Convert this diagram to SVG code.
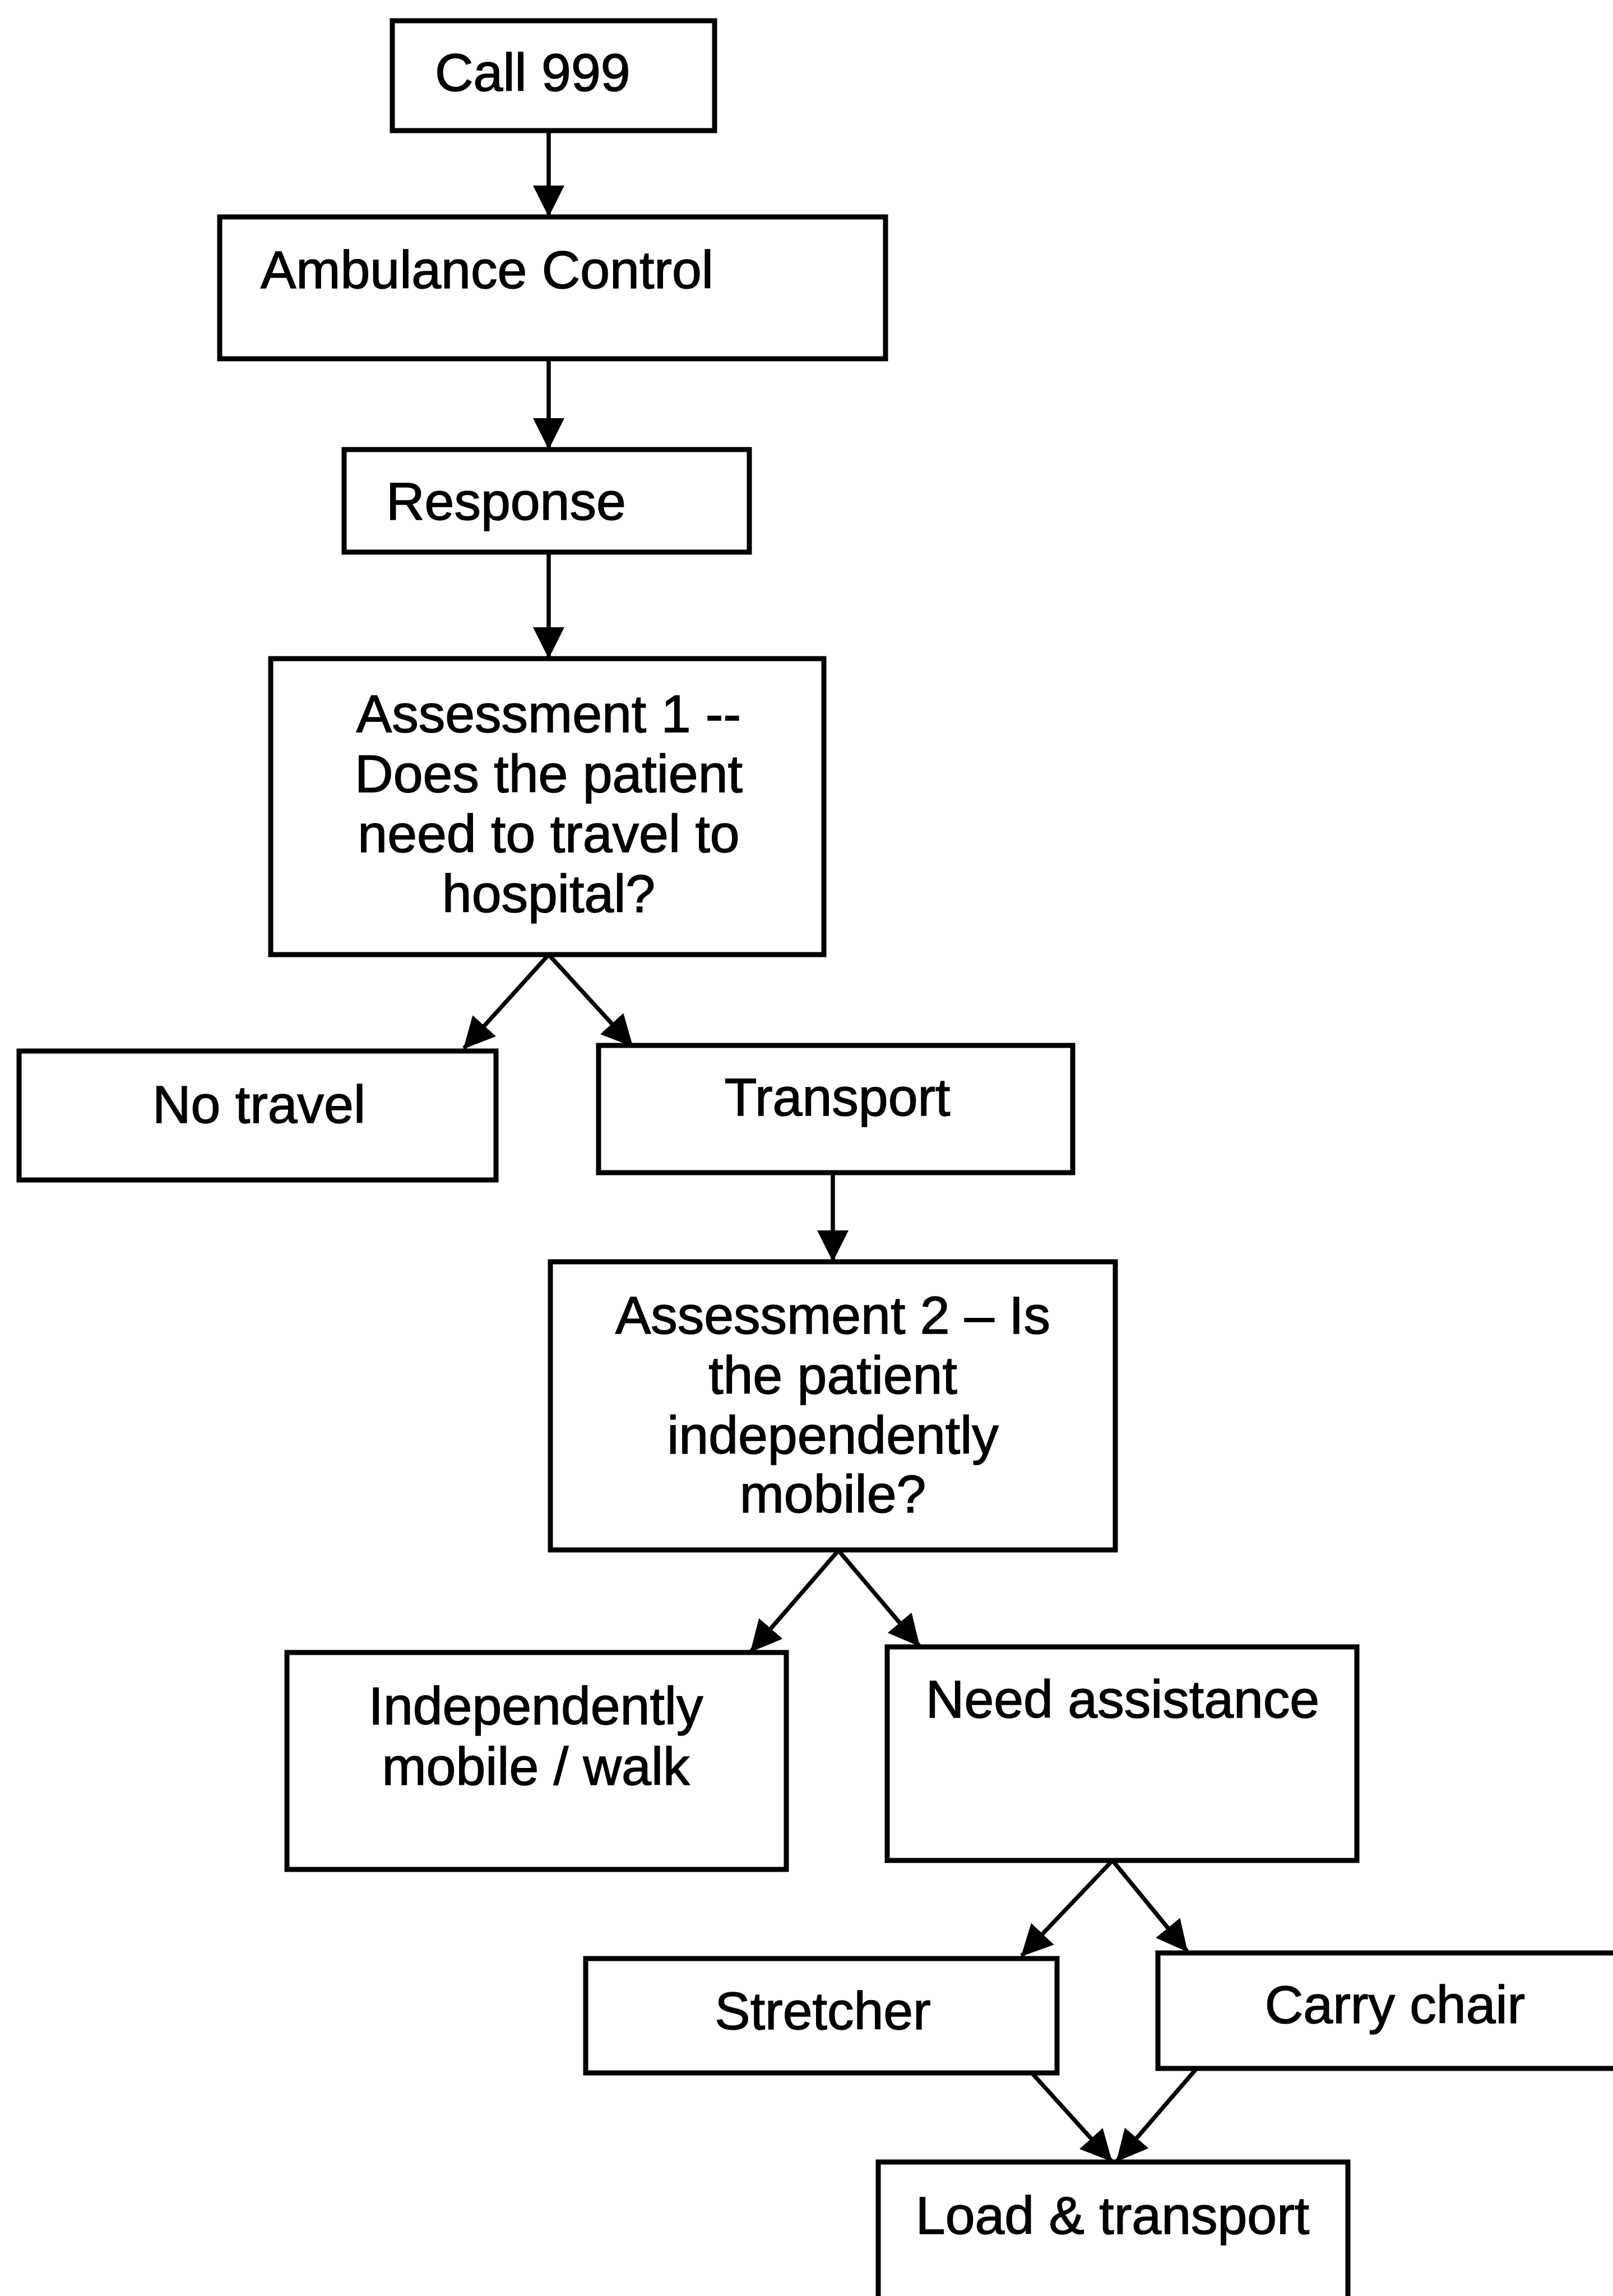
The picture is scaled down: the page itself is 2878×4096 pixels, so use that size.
<svg xmlns="http://www.w3.org/2000/svg" width="2878" height="4096" viewBox="0 0 2878 4096">
<style>
  .box { fill: #ffffff; stroke: #000000; stroke-width: 9; }
  .lbl { font-family: "Liberation Sans", Arial, sans-serif; font-size: 95px; fill: #000000; stroke: #000000; stroke-width: 1.5; }
  .mid { text-anchor: middle; }
  .edge { stroke: #000000; stroke-width: 7.5; fill: none; marker-end: url(#head); }
</style>
<defs>
  <marker id="head" markerUnits="userSpaceOnUse" viewBox="0 0 56 56" markerWidth="56" markerHeight="56" refX="54" refY="28" orient="auto">
    <path d="M0,0 L56,28 L0,56 Z" fill="#000000"/>
  </marker>
</defs>
<rect width="2878" height="4096" fill="#ffffff"/>

<g id="connectors">
  <line class="edge" x1="979" y1="232" x2="979" y2="385"/>
  <line class="edge" x1="979" y1="640" x2="979" y2="800"/>
  <line class="edge" x1="979" y1="985" x2="979" y2="1173"/>
  <line class="edge" x1="979" y1="1703" x2="828" y2="1870"/>
  <line class="edge" x1="979" y1="1703" x2="1128" y2="1866"/>
  <line class="edge" x1="1486" y1="2092" x2="1486" y2="2249"/>
  <line class="edge" x1="1496" y1="2766" x2="1340" y2="2946"/>
  <line class="edge" x1="1496" y1="2766" x2="1640" y2="2936"/>
  <line class="edge" x1="1985" y1="3319" x2="1823" y2="3489"/>
  <line class="edge" x1="1985" y1="3319" x2="2118" y2="3481"/>
  <line class="edge" x1="1841" y1="3698" x2="1983" y2="3855"/>
  <line class="edge" x1="2136" y1="3689" x2="1993" y2="3855"/>
</g>

<g id="call999">
  <rect class="box" x="700" y="37" width="575" height="196"/>
  <text class="lbl" x="776" y="162">Call 999</text>
</g>
<g id="ambulance-control">
  <rect class="box" x="392" y="387" width="1188" height="253"/>
  <text class="lbl" x="465" y="514">Ambulance Control</text>
</g>
<g id="response">
  <rect class="box" x="614" y="802" width="723" height="183"/>
  <text class="lbl" x="689" y="927">Response</text>
</g>
<g id="assessment1">
  <rect class="box" x="483" y="1175" width="987" height="528"/>
  <text class="lbl mid" x="979" y="1306">Assessment 1 --</text>
  <text class="lbl mid" x="979" y="1413">Does the patient</text>
  <text class="lbl mid" x="979" y="1520">need to travel to</text>
  <text class="lbl mid" x="979" y="1627">hospital?</text>
</g>
<g id="no-travel">
  <rect class="box" x="34" y="1875" width="851" height="230"/>
  <text class="lbl mid" x="462" y="2003">No travel</text>
</g>
<g id="transport">
  <rect class="box" x="1068" y="1865" width="846" height="227"/>
  <text class="lbl mid" x="1494" y="1990">Transport</text>
</g>
<g id="assessment2">
  <rect class="box" x="982" y="2251" width="1008" height="514"/>
  <text class="lbl mid" x="1486" y="2379">Assessment 2 – Is</text>
  <text class="lbl mid" x="1486" y="2486">the patient</text>
  <text class="lbl mid" x="1486" y="2593">independently</text>
  <text class="lbl mid" x="1486" y="2698">mobile?</text>
</g>
<g id="independently-mobile">
  <rect class="box" x="512" y="2948" width="891" height="387"/>
  <text class="lbl mid" x="956" y="3076">Independently</text>
  <text class="lbl mid" x="956" y="3184">mobile / walk</text>
</g>
<g id="need-assistance">
  <rect class="box" x="1583" y="2938" width="838" height="381"/>
  <text class="lbl mid" x="2003" y="3064">Need assistance</text>
</g>
<g id="stretcher">
  <rect class="box" x="1045" y="3494" width="841" height="204"/>
  <text class="lbl mid" x="1468" y="3620">Stretcher</text>
</g>
<g id="carry-chair">
  <rect class="box" x="2066" y="3484" width="840" height="206"/>
  <text class="lbl mid" x="2489" y="3609">Carry chair</text>
</g>
<g id="load-transport">
  <rect class="box" x="1567" y="3857" width="838" height="260"/>
  <text class="lbl mid" x="1985" y="3985">Load &amp; transport</text>
</g>
</svg>
